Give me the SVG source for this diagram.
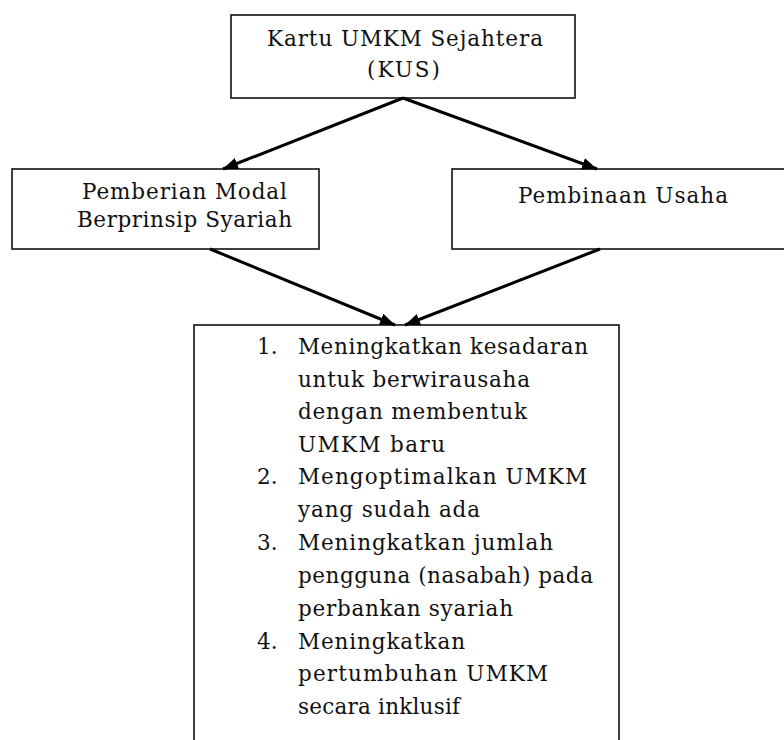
<svg xmlns="http://www.w3.org/2000/svg" width="784" height="740" viewBox="0 0 784 740">
<style>
.box{fill:#fff;stroke:#111;stroke-width:1.6}
.t{font-family:"DejaVu Serif","Liberation Serif",serif;font-size:21.5px;fill:#111}
.c{stroke:#000;stroke-width:3;fill:none}
</style>
<defs>
<marker id="ah" markerUnits="userSpaceOnUse" markerWidth="18" markerHeight="14" refX="15" refY="7" orient="auto">
<path d="M0,1 L15,7 L0,13 Z" fill="#000"/>
</marker>
</defs>
<rect width="784" height="740" fill="#fff"/>
<g id="kus">
<rect class="box" x="231" y="15" width="344" height="83"/>
<text class="t" x="267" y="46" textLength="276" lengthAdjust="spacing">Kartu UMKM Sejahtera</text>
<text class="t" x="367" y="77" textLength="73" lengthAdjust="spacing">(KUS)</text>
</g>
<g id="modal">
<rect class="box" x="12" y="169" width="307" height="80"/>
<text class="t" x="82" y="199" textLength="205" lengthAdjust="spacing">Pemberian Modal</text>
<text class="t" x="77" y="227" textLength="215" lengthAdjust="spacing">Berprinsip Syariah</text>
</g>
<g id="pembinaan">
<rect class="box" x="452" y="169" width="340" height="80"/>
<text class="t" x="518" y="203" textLength="210" lengthAdjust="spacing">Pembinaan Usaha</text>
</g>
<g id="hasil">
<rect class="box" x="194" y="325" width="425" height="425"/>
<text class="t" x="257" y="354">1.</text>
<text class="t" x="298" y="354" textLength="290" lengthAdjust="spacing">Meningkatkan kesadaran</text>
<text class="t" x="298" y="387" textLength="232" lengthAdjust="spacing">untuk berwirausaha</text>
<text class="t" x="298" y="419" textLength="229" lengthAdjust="spacing">dengan membentuk</text>
<text class="t" x="298" y="452" textLength="147" lengthAdjust="spacing">UMKM baru</text>
<text class="t" x="257" y="484">2.</text>
<text class="t" x="298" y="484" textLength="289" lengthAdjust="spacing">Mengoptimalkan UMKM</text>
<text class="t" x="298" y="517" textLength="182" lengthAdjust="spacing">yang sudah ada</text>
<text class="t" x="257" y="550">3.</text>
<text class="t" x="298" y="550" textLength="255" lengthAdjust="spacing">Meningkatkan jumlah</text>
<text class="t" x="298" y="583" textLength="295" lengthAdjust="spacing">pengguna (nasabah) pada</text>
<text class="t" x="298" y="616" textLength="215" lengthAdjust="spacing">perbankan syariah</text>
<text class="t" x="257" y="649">4.</text>
<text class="t" x="298" y="649" textLength="167" lengthAdjust="spacing">Meningkatkan</text>
<text class="t" x="298" y="681" textLength="250" lengthAdjust="spacing">pertumbuhan UMKM</text>
<text class="t" x="298" y="714" textLength="162" lengthAdjust="spacing">secara inklusif</text>
</g>
<g id="connectors">
<line class="c" x1="403" y1="98" x2="223" y2="169" marker-end="url(#ah)"/>
<line class="c" x1="403" y1="98" x2="597" y2="169" marker-end="url(#ah)"/>
<line class="c" x1="210" y1="249" x2="395" y2="325" marker-end="url(#ah)"/>
<line class="c" x1="600" y1="249" x2="405" y2="325" marker-end="url(#ah)"/>
</g>
</svg>
